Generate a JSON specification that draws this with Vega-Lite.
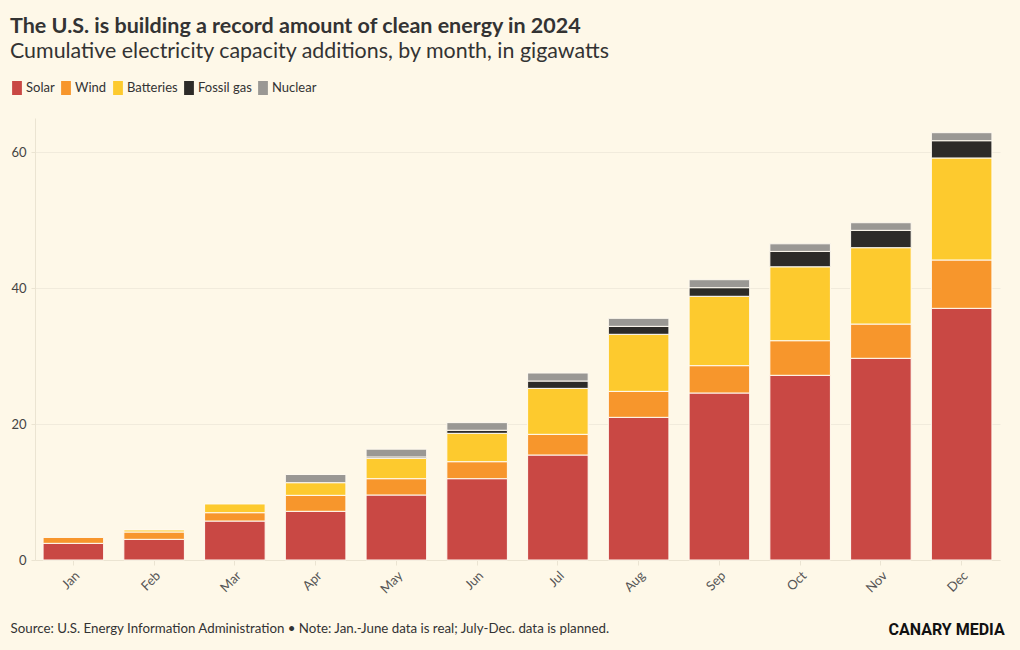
{
  "$schema": "https://vega.github.io/schema/vega-lite/v6.json",
  "autosize": {"type": "none"},
  "width": 965,
  "height": 442,
  "padding": {"left": 35, "top": 118, "right": 20, "bottom": 90},
  "background": "#fef8e8",
  "title": {
    "text": "The U.S. is building a record amount of clean energy in 2024",
    "subtitle": "Cumulative electricity capacity additions, by month, in gigawatts",
    "anchor": "start",
    "frame": "group",
    "dx": -25,
    "offset": 19,
    "font": "Lato",
    "fontSize": 21.5,
    "fontWeight": "bold",
    "color": "#333333",
    "subtitleFont": "Lato",
    "subtitleFontSize": 21.4,
    "subtitleColor": "#333333",
    "subtitlePadding": 3
  },
  "data": {
    "values": [
      {"month": "Jan", "source": "Solar", "gw": 2.45},
      {"month": "Jan", "source": "Wind", "gw": 0.87},
      {"month": "Feb", "source": "Solar", "gw": 3.04},
      {"month": "Feb", "source": "Wind", "gw": 1.08},
      {"month": "Feb", "source": "Batteries", "gw": 0.3},
      {"month": "Mar", "source": "Solar", "gw": 5.73},
      {"month": "Mar", "source": "Wind", "gw": 1.23},
      {"month": "Mar", "source": "Batteries", "gw": 1.28},
      {"month": "Apr", "source": "Solar", "gw": 7.16},
      {"month": "Apr", "source": "Wind", "gw": 2.35},
      {"month": "Apr", "source": "Batteries", "gw": 1.86},
      {"month": "Apr", "source": "Nuclear", "gw": 1.2},
      {"month": "May", "source": "Solar", "gw": 9.56},
      {"month": "May", "source": "Wind", "gw": 2.4},
      {"month": "May", "source": "Batteries", "gw": 2.99},
      {"month": "May", "source": "Fossil gas", "gw": 0.2},
      {"month": "May", "source": "Nuclear", "gw": 1.15},
      {"month": "Jun", "source": "Solar", "gw": 11.96},
      {"month": "Jun", "source": "Wind", "gw": 2.5},
      {"month": "Jun", "source": "Batteries", "gw": 4.17},
      {"month": "Jun", "source": "Fossil gas", "gw": 0.45},
      {"month": "Jun", "source": "Nuclear", "gw": 1.12},
      {"month": "Jul", "source": "Solar", "gw": 15.44},
      {"month": "Jul", "source": "Wind", "gw": 3.04},
      {"month": "Jul", "source": "Batteries", "gw": 6.76},
      {"month": "Jul", "source": "Fossil gas", "gw": 1.08},
      {"month": "Jul", "source": "Nuclear", "gw": 1.18},
      {"month": "Aug", "source": "Solar", "gw": 20.98},
      {"month": "Aug", "source": "Wind", "gw": 3.82},
      {"month": "Aug", "source": "Batteries", "gw": 8.39},
      {"month": "Aug", "source": "Fossil gas", "gw": 1.17},
      {"month": "Aug", "source": "Nuclear", "gw": 1.18},
      {"month": "Sep", "source": "Solar", "gw": 24.56},
      {"month": "Sep", "source": "Wind", "gw": 4.02},
      {"month": "Sep", "source": "Batteries", "gw": 10.2},
      {"month": "Sep", "source": "Fossil gas", "gw": 1.27},
      {"month": "Sep", "source": "Nuclear", "gw": 1.17},
      {"month": "Oct", "source": "Solar", "gw": 27.16},
      {"month": "Oct", "source": "Wind", "gw": 5.09},
      {"month": "Oct", "source": "Batteries", "gw": 10.87},
      {"month": "Oct", "source": "Fossil gas", "gw": 2.26},
      {"month": "Oct", "source": "Nuclear", "gw": 1.12},
      {"month": "Nov", "source": "Solar", "gw": 29.66},
      {"month": "Nov", "source": "Wind", "gw": 5.04},
      {"month": "Nov", "source": "Batteries", "gw": 11.23},
      {"month": "Nov", "source": "Fossil gas", "gw": 2.55},
      {"month": "Nov", "source": "Nuclear", "gw": 1.12},
      {"month": "Dec", "source": "Solar", "gw": 37.01},
      {"month": "Dec", "source": "Wind", "gw": 7.11},
      {"month": "Dec", "source": "Batteries", "gw": 15.0},
      {"month": "Dec", "source": "Fossil gas", "gw": 2.54},
      {"month": "Dec", "source": "Nuclear", "gw": 1.18}
    ]
  },
  "transform": [
    {"calculate": "indexof(['Solar','Wind','Batteries','Fossil gas','Nuclear'], datum.source)", "as": "stackOrder"}
  ],
  "mark": {"type": "bar", "stroke": "#fffaf0", "strokeWidth": 1},
  "encoding": {
    "x": {
      "field": "month",
      "type": "nominal",
      "sort": ["Jan", "Feb", "Mar", "Apr", "May", "Jun", "Jul", "Aug", "Sep", "Oct", "Nov", "Dec"],
      "scale": {"paddingInner": 0.25, "paddingOuter": 0.1},
      "axis": {
        "title": "Source: U.S. Energy Information Administration • Note: Jan.-June data is real; July-Dec. data is planned.",
        "titleAnchor": "start",
        "titleAlign": "left",
        "titleX": -25,
        "titleY": 72,
        "titleBaseline": "alphabetic",
        "titleFont": "Lato",
        "titleFontSize": 13.3,
        "titleFontWeight": "normal",
        "titleColor": "#333333",
        "labelAngle": -45,
        "labelFont": "Lato",
        "labelFontSize": 13,
        "labelColor": "#555555",
        "labelPadding": 4,
        "tickColor": "#ebe4d2",
        "tickSize": 5,
        "domainColor": "#ebe4d2",
        "grid": false
      }
    },
    "y": {
      "field": "gw",
      "type": "quantitative",
      "stack": "zero",
      "scale": {"domain": [0, 65], "nice": false},
      "axis": {
        "values": [0, 20, 40, 60],
        "title": "CANARY MEDIA",
        "titleAngle": 0,
        "titleAlign": "left",
        "titleBaseline": "alphabetic",
        "titleX": 853,
        "titleY": 516,
        "titleFont": "Roboto",
        "titleFontSize": 16,
        "titleFontWeight": "bold",
        "titleColor": "#111111",
        "labelFont": "Lato",
        "labelFontSize": 13,
        "labelColor": "#444444",
        "labelPadding": 5,
        "tickColor": "#ebe4d2",
        "tickSize": 4,
        "domainColor": "#ebe4d2",
        "gridColor": "#f1ebdc",
        "gridWidth": 1
      }
    },
    "order": {"field": "stackOrder", "type": "quantitative", "sort": "ascending"},
    "color": {
      "field": "source",
      "type": "nominal",
      "sort": ["Solar", "Wind", "Batteries", "Fossil gas", "Nuclear"],
      "scale": {
        "domain": ["Solar", "Wind", "Batteries", "Fossil gas", "Nuclear"],
        "range": ["#c94844", "#f7962c", "#fdca2e", "#2d2b28", "#9a9894"]
      },
      "legend": {
        "title": null,
        "orient": "none",
        "direction": "horizontal",
        "legendX": -25,
        "legendY": -37,
        "symbolType": "M-0.7,-1 L0.7,-1 L0.7,1 L-0.7,1 Z",
        "symbolSize": 196,
        "symbolStrokeWidth": 0,
        "symbolOpacity": 1,
        "labelFont": "Lato",
        "labelFontSize": 13,
        "labelColor": "#333333",
        "labelOffset": 2,
        "columnPadding": 4
      }
    }
  },
  "config": {
    "view": {"stroke": null},
    "font": "Lato"
  }
}
